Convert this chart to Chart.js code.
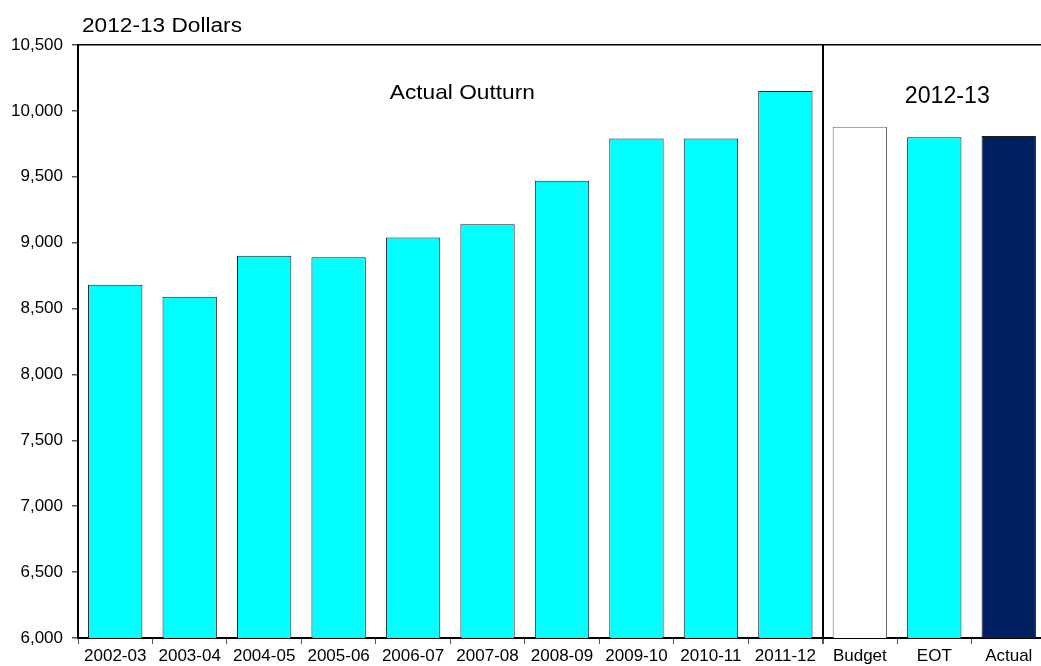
<!DOCTYPE html>
<html>
<head>
<meta charset="utf-8">
<title>Spending per head</title>
<script src="https://cdn.jsdelivr.net/npm/chart.js@4"></script>
<style>
  html, body { margin: 0; padding: 0; background: #fff; overflow: hidden; }
  #wrap { width: 1046px; height: 666px; }
</style>
</head>
<body>
<div id="wrap"><canvas id="myChart" width="1046" height="666"></canvas></div>
<script>
// years of actual outturn, then the 2012-13 columns
const categories = ['2002-03', '2003-04', '2004-05', '2005-06', '2006-07', '2007-08',
                    '2008-09', '2009-10', '2010-11', '2011-12', 'Budget', 'EOT', 'Actual'];
const values = [8680, 8590, 8900, 8890, 9040, 9140, 9470, 9790, 9790, 10150, 9880, 9800, 9810];
const barColors = ['#00FFFF', '#00FFFF', '#00FFFF', '#00FFFF', '#00FFFF', '#00FFFF',
                   '#00FFFF', '#00FFFF', '#00FFFF', '#00FFFF', '#FFFFFF', '#00FFFF', '#002060'];
const yTicks = [6000, 6500, 7000, 7500, 8000, 8500, 9000, 9500, 10000, 10500];

const FONT = '"Liberation Sans", Arial, sans-serif';

// text stretched sideways to a set width
function wideText(c, text, x, y, size, width, align) {
  c.font = size + 'px ' + FONT;
  const w = c.measureText(text).width;
  const k = width / w;
  const left = align === 'center' ? x - width / 2 : x;
  c.save();
  c.translate(left, y);
  c.scale(k, 1);
  c.textAlign = 'left';
  c.textBaseline = 'alphabetic';
  c.fillText(text, 0, 0);
  c.restore();
}

// headings drawn on top of the plot
const labelsPlugin = {
  id: 'headings',
  afterDraw(chart) {
    const c = chart.ctx;
    const area = chart.chartArea;
    const x = chart.scales.x;
    c.save();
    c.fillStyle = '#000';
    wideText(c, '2012-13 Dollars', 82, 32, 19.5, 160, 'left');
    wideText(c, 'Actual Outturn', area.left + 0.397 * (area.right - area.left), 99, 21, 145, 'center');
    wideText(c, '2012-13', x.getPixelForValue(11) + 13, 103, 23, 85, 'center');
    c.restore();
  }
};

function setup() {
  const ctx = document.getElementById('myChart').getContext('2d');
  new Chart(ctx, {
    type: 'bar',
    data: {
      labels: categories,
      datasets: [{
        data: values,
        backgroundColor: barColors,
        borderColor: categories.map(l => l === 'Budget' ? '#666' : '#1a1a1a'),
        borderWidth: 1,
        categoryPercentage: 1,
        barPercentage: 0.73
      }]
    },
    options: {
      responsive: false,
      animation: false,
      layout: { padding: { top: 45, left: 0, right: 0, bottom: 0 } },
      plugins: { legend: { display: false }, tooltip: { enabled: false } },
      scales: {
        x: {
          afterFit(scale) { scale.height = 28; },
          border: { display: true, color: '#000', width: 2 },
          grid: {
            offset: true,
            drawOnChartArea: true,
            // only the split between 2011-12 and the 2012-13 columns runs up the plot
            color: c => c.index === 10 ? '#000' : 'rgba(0,0,0,0)',
            lineWidth: c => c.index === 10 ? 2 : 1,
            tickColor: '#555',
            tickLength: 6
          },
          ticks: {
            color: '#000',
            font: { family: FONT, size: 17 },
            padding: 2,
            maxRotation: 0,
            autoSkip: false
          }
        },
        y: {
          min: 6000,
          max: 10500,
          afterFit(scale) { scale.width = 78; },
          afterBuildTicks(scale) { scale.ticks = yTicks.map(v => ({ value: v })); },
          border: { display: true, color: '#000', width: 2 },
          grid: {
            color: c => c.tick && c.tick.value === 10500 ? '#000' : 'rgba(0,0,0,0)',
            lineWidth: 1.5,
            tickColor: '#555',
            tickLength: 6
          },
          ticks: {
            color: '#000',
            font: { family: FONT, size: 17 },
            padding: 9,
            callback: v => v.toLocaleString('en-US')
          }
        }
      }
    },
    plugins: [labelsPlugin]
  });
}

window.addEventListener('load', setup);
</script>
</body>
</html>
